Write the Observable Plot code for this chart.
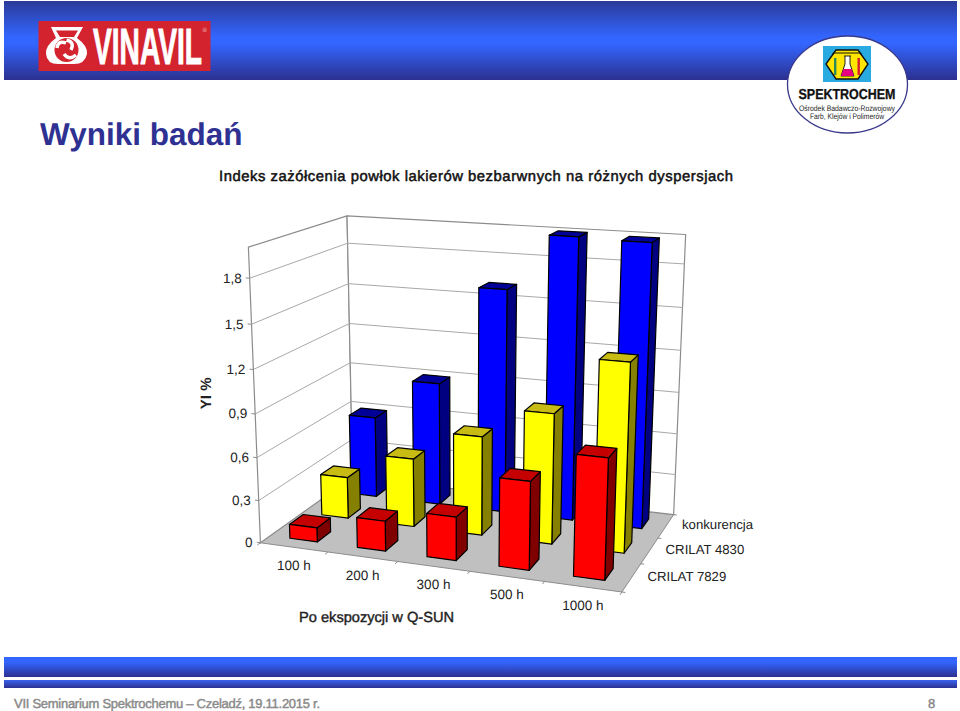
<!DOCTYPE html>
<html><head><meta charset="utf-8">
<script src="https://cdn.jsdelivr.net/npm/d3@7"></script>
<script src="https://cdn.jsdelivr.net/npm/@observablehq/plot@0.6"></script>
<style>
html,body{margin:0;padding:0;background:#fff;width:960px;height:711px;overflow:hidden}
body{position:relative;font-family:"Liberation Sans",Arial,sans-serif;text-rendering:geometricPrecision}
.abs{position:absolute;white-space:nowrap}
#top{left:4px;top:1px;width:953px;height:79px;background:linear-gradient(#2b3a98 0%,#3366ff 46%,#3366ff 54%,#2c3090 100%)}
#band1{left:4px;top:657px;width:953px;height:20px;background:linear-gradient(#3366ff 0%,#3366ff 25%,#2c3090 100%)}
#band2{left:4px;top:680px;width:953px;height:8px;background:linear-gradient(#3a62ee 0%,#2c3090 100%)}
#title{left:40px;top:116px;font-size:31.5px;font-weight:bold;color:#2e3192}
#subtitle{left:219px;top:169px;font-size:14.8px;color:#111;-webkit-text-stroke:0.5px #111}
#foot{left:14px;top:696px;font-size:13px;color:#8a8a8a;-webkit-text-stroke:0.45px #8a8a8a}
#page{left:928px;top:696px;font-size:13px;color:#8a8a8a;-webkit-text-stroke:0.45px #8a8a8a}
#chart{left:0;top:0}
</style></head>
<body>
<div class="abs" id="top"></div>
<div class="abs" id="band1"></div>
<div class="abs" id="band2"></div>
<svg class="abs" style="left:0;top:0" width="960" height="140" viewBox="0 0 960 140">
  <rect x="38.5" y="21" width="172" height="50" fill="#d2232f"/>
  <path d="M51 27 H83 L77 38 Q88 46 87 54 Q85 64 74 64 H58 Q47 64 46 54 Q45 46 56 38 Z" fill="#fff"/>
  <path d="M56 30.5 H78 L74 37 H60 Z" fill="#d2232f"/>
  <circle cx="66.5" cy="50" r="12" fill="#d2232f"/>
  <path d="M66.5 40 Q75 42 71 50 M76 55 Q69 61 64 54 M57 48 Q58 40 66 43" fill="none" stroke="#fff" stroke-width="3.4"/>
  <text x="93" y="63.5" font-family="Liberation Sans Narrow,Liberation Sans" font-weight="bold" font-size="51" fill="#fff" stroke="#fff" stroke-width="1" textLength="109" lengthAdjust="spacingAndGlyphs">VINAVIL</text>
  <text x="202.5" y="32" font-family="Liberation Sans" font-size="6" fill="#f2c0c0">®</text>
  <ellipse cx="847.5" cy="84.5" rx="60" ry="48.5" fill="#fff" stroke="#3a3a8c" stroke-width="1.3"/>
  <rect x="823" y="46" width="48" height="36" fill="#29abe2"/>
  <path d="M836 50 H858 L868 64 L858 79 H836 L826 64 Z" fill="#ffe600" stroke="#111" stroke-width="1.4"/>
  <path d="M833 55 V53 H861 V55" fill="none" stroke="#111" stroke-width="1"/>
  <rect x="834" y="58" width="2.4" height="17" fill="#2e8b57"/>
  <rect x="857.5" y="58" width="2.4" height="17" fill="#d81e2c"/>
  <path d="M844 56 H851 M845 56 V64 L841 76 H854 L850 64 V56" fill="#fff" stroke="#222" stroke-width="1"/>
  <path d="M843.5 69 H851.5 L854 76 H841 Z" fill="#e6007e"/>
  <text x="847" y="99" text-anchor="middle" font-family="Liberation Sans" font-weight="bold" font-size="14.5" fill="#111" stroke="#111" stroke-width="0.3" textLength="97" lengthAdjust="spacingAndGlyphs">SPEKTROCHEM</text>
  <text x="847" y="110.5" text-anchor="middle" font-family="Liberation Sans" font-size="8" fill="#222" textLength="96" lengthAdjust="spacingAndGlyphs">Ośrodek Badawczo-Rozwojowy</text>
  <text x="847" y="119" text-anchor="middle" font-family="Liberation Sans" font-size="8" fill="#222" textLength="74" lengthAdjust="spacingAndGlyphs">Farb, Klejów i Polimerów</text>
</svg>
<div class="abs" id="title">Wyniki badań</div>
<div class="abs" id="subtitle">Indeks zażółcenia powłok lakierów bezbarwnych na różnych dyspersjach</div>
<div class="abs" id="foot">VII Seminarium Spektrochemu – Czeladź, 19.11.2015 r.</div>
<div class="abs" id="page">8</div>
<div class="abs" id="chart"></div>
<script>
const categories = ["100 h","200 h","300 h","500 h","1000 h"];
const seriesNames = ["CRILAT 7829","CRILAT 4830","konkurencja"];
const crilat7829 = [0.10,0.21,0.30,0.60,0.81];
const crilat4830 = [0.30,0.49,0.70,0.91,1.30];
const konkurencja = [0.60,0.90,1.61,2.00,1.99];
const yTicks = [0,0.3,0.6,0.9,1.2,1.5,1.8];
const yLabels = ["0","0,3","0,6","0,9","1,2","1,5","1,8"];
const axisX = "Po ekspozycji w Q-SUN";
const axisY = "YI %";
const yMax = 2;
const palette = [
  {front:"#ff0000",top:"#c40000",side:"#800000"},
  {front:"#ffff00",top:"#c8bc14",side:"#858000"},
  {front:"#0000ff",top:"#000099",side:"#000080"}
];
const values = [crilat7829,crilat4830,konkurencja];

function fit(id,w){const e=document.getElementById(id);const n=e.textContent.length;
  const r=document.createRange();r.selectNodeContents(e);
  const cur=r.getBoundingClientRect().width;e.style.letterSpacing=((w-cur)/(n-1)).toFixed(3)+"px";}
fit("subtitle",514);fit("foot",306);

// Camera: perspective fitted to the visible corners of the chart box (cat, series, value -> px)
const nC = categories.length, nS = seriesNames.length;
const calib = [[0,0,0,260,541.7],[nC,0,0,621.7,591.7],[nC,nS,0,673,514],[0,nS,0,352,477],
               [0,0,yMax,247.5,247],[0,nS,yMax,347,215],[nC,nS,yMax,685,234]];
function solveCam(){
  const A=[],b=[];
  for(const [u,s,h,px,py] of calib){
    const X=px/1000,Y=py/1000;
    A.push([u,s,h,1,0,0,0,0,-X*u,-X*s,-X*h]);b.push(X);
    A.push([0,0,0,0,u,s,h,1,-Y*u,-Y*s,-Y*h]);b.push(Y);
  }
  const n=11,M=[];
  for(let i=0;i<n;i++){const r=[];for(let j=0;j<n;j++){let t=0;for(let k=0;k<A.length;k++)t+=A[k][i]*A[k][j];r.push(t+(i==j?1e-10:0));}
    let t=0;for(let k=0;k<A.length;k++)t+=A[k][i]*b[k];r.push(t);M.push(r);}
  for(let i=0;i<n;i++){let p=i;for(let r=i+1;r<n;r++)if(Math.abs(M[r][i])>Math.abs(M[p][i]))p=r;[M[i],M[p]]=[M[p],M[i]];
    for(let r=0;r<n;r++)if(r!=i){const f=M[r][i]/M[i][i];for(let c=i;c<=n;c++)M[r][c]-=f*M[i][c];}}
  return M.map((r,i)=>r[n]/r[i]);
}
const m = solveCam();
function P(u,s,h){
  const w=m[8]*u+m[9]*s+m[10]*h+1;
  return {x:1000*(m[0]*u+m[1]*s+m[2]*h+m[3])/w, y:1000*(m[4]*u+m[5]*s+m[6]*h+m[7])/w};
}
const poly=(pts,o)=>Plot.line(pts.map(p=>P(...p)),{x:"x",y:"y",curve:"linear-closed",...o});
const seg=(a,b,o)=>Plot.line([P(...a),P(...b)],{x:"x",y:"y",...o});

const marks=[];
const WALL="#8c8c8c", GRID="#a8a8a8";
marks.push(poly([[0,0,0],[nC,0,0],[nC,nS,0],[0,nS,0]],{fill:"#c0c0c0",stroke:"#8c8c8c",strokeWidth:1}));
marks.push(poly([[0,0,0],[0,nS,0],[0,nS,yMax],[0,0,yMax]],{fill:"#fff",stroke:WALL,strokeWidth:1.2}));
marks.push(poly([[0,nS,0],[nC,nS,0],[nC,nS,yMax],[0,nS,yMax]],{fill:"#fff",stroke:WALL,strokeWidth:1.2}));
for(const t of yTicks.slice(1)){
  marks.push(Plot.line([P(0,0,t),P(0,nS,t),P(nC,nS,t)],{x:"x",y:"y",stroke:GRID,strokeWidth:1}));
}
for(const t of yTicks) marks.push(seg([-0.05,0,t],[0,0,t],{stroke:WALL,strokeWidth:1}));
for(let i=0;i<=nC;i++) marks.push(seg([i,0,0],[i,-0.08,0],{stroke:WALL,strokeWidth:1}));
for(let j=0;j<=nS;j++) marks.push(seg([nC,j,0],[nC+0.04,j,0],{stroke:WALL,strokeWidth:1}));

const fu=0.41, fs=0.42;
for(let j=nS-1;j>=0;j--){
  const c=palette[j];
  for(let i=0;i<nC;i++){
    const v=values[j][i];
    const u0=i+0.5-fu/2,u1=i+0.5+fu/2,s0=j+0.5-fs/2,s1=j+0.5+fs/2;
    const st={stroke:"#000",strokeWidth:1.2,strokeLinejoin:"round"};
    marks.push(poly([[u1,s0,0],[u1,s1,0],[u1,s1,v],[u1,s0,v]],{fill:c.side,...st}));
    marks.push(poly([[u0,s0,v],[u1,s0,v],[u1,s1,v],[u0,s1,v]],{fill:c.top,...st}));
    marks.push(poly([[u0,s0,0],[u1,s0,0],[u1,s0,v],[u0,s0,v]],{fill:c.front,...st}));
  }
}
const F={fontFamily:"Liberation Sans, Arial, sans-serif",fill:"#222"};
marks.push(Plot.text(yTicks.map((t,i)=>({...P(0,0,t),l:yLabels[i]})),{x:"x",y:"y",text:"l",textAnchor:"end",dx:-8,fontSize:13.5,...F}));
marks.push(Plot.text(categories.map((l,i)=>({...P(i+0.5,0,0),l})),{x:"x",y:"y",text:"l",dy:18.5,fontSize:13.5,...F}));
marks.push(Plot.text(seriesNames.map((l,j)=>({...P(nC,j+0.5,0),l})),{x:"x",y:"y",text:"l",textAnchor:"start",dx:16,dy:-1,fontSize:13.2,...F}));
marks.push(Plot.text([{...P(nC*0.34,0,0),l:axisX}],{x:"x",y:"y",text:"l",dy:59,fontSize:14.6,stroke:"#222",strokeWidth:0.4,...F}));
marks.push(Plot.text([{...P(0,0,1.04),l:axisY}],{x:"x",y:"y",text:"l",dx:-48,rotate:-90,fontSize:15,fontWeight:"bold",...F}));

const plot=Plot.plot({width:960,height:711,margin:0,
  x:{type:"identity",axis:null},y:{type:"identity",axis:null},
  style:{background:"transparent"},marks});
document.getElementById("chart").append(plot);
</script>
</body></html>
